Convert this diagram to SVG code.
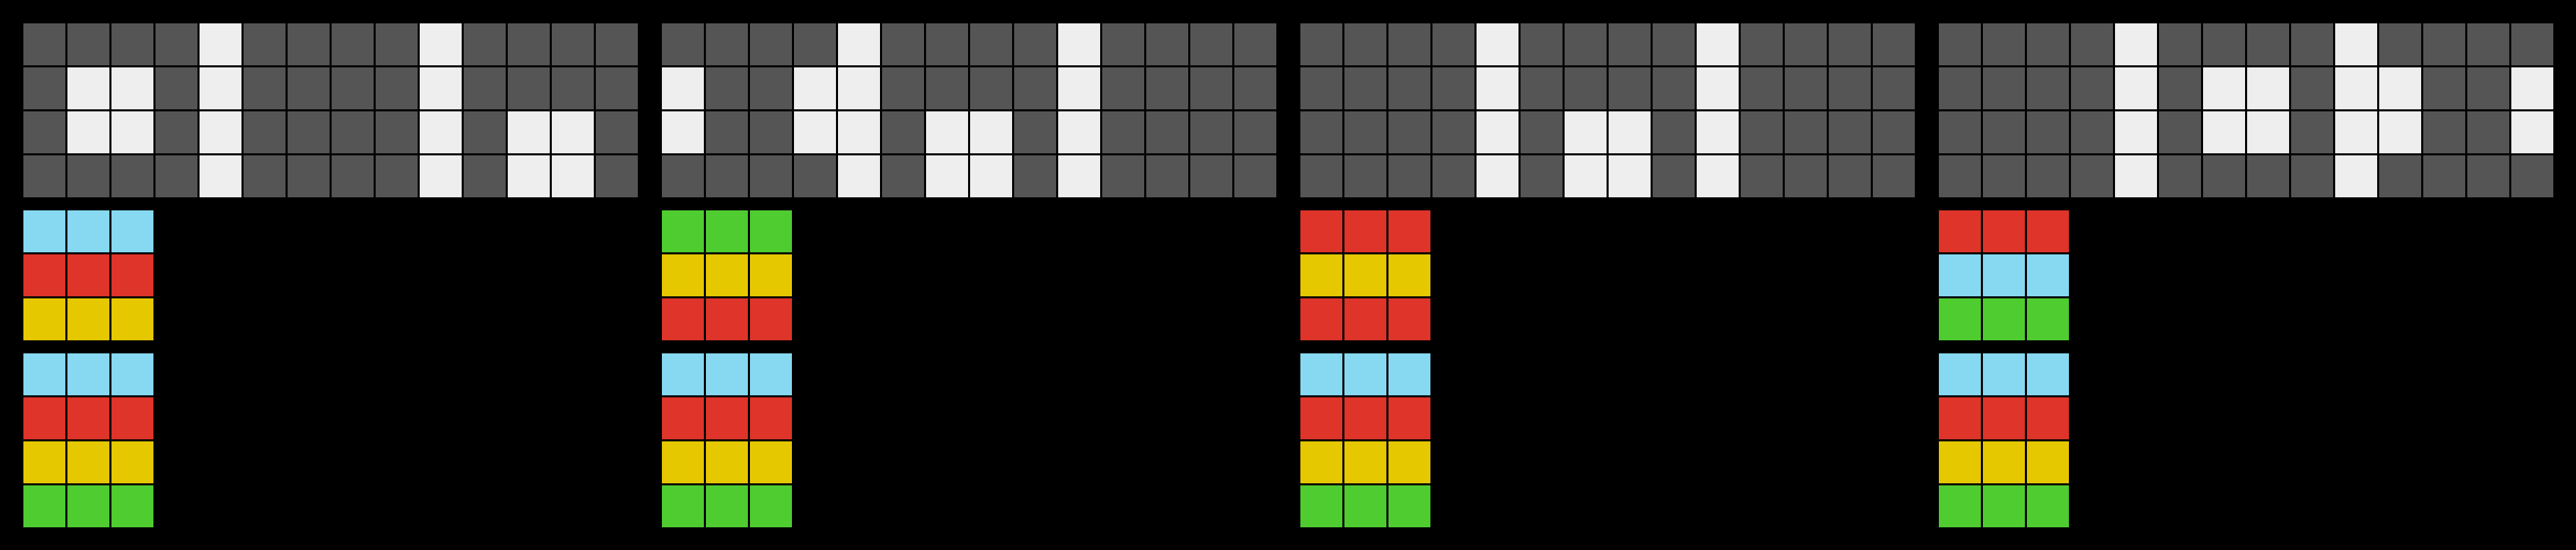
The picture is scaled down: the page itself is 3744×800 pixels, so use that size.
<svg xmlns="http://www.w3.org/2000/svg" xmlns:xlink="http://www.w3.org/1999/xlink" width="3744" height="800" viewBox="0 0 3744 800">
<style>
.w{fill:#EEEEEE}
.gr{fill:#555555}
.cy{fill:#87D8F1}
.rd{fill:#DE3429}
.ye{fill:#E6C800}
.gn{fill:#4FCC30}
</style>
<defs>
<g id="grow" class="gr">
<rect x="34" y="0" width="61" height="61"/><rect x="98" y="0" width="61" height="61"/><rect x="162" y="0" width="61" height="61"/><rect x="226" y="0" width="61" height="61"/><rect x="290" y="0" width="61" height="61"/><rect x="354" y="0" width="61" height="61"/><rect x="418" y="0" width="61" height="61"/><rect x="482" y="0" width="61" height="61"/><rect x="546" y="0" width="61" height="61"/><rect x="610" y="0" width="61" height="61"/><rect x="674" y="0" width="61" height="61"/><rect x="738" y="0" width="61" height="61"/><rect x="802" y="0" width="61" height="61"/><rect x="866" y="0" width="61" height="61"/>
</g>
<g id="base">
<use xlink:href="#grow" href="#grow" y="34"/>
<use xlink:href="#grow" href="#grow" y="98"/>
<use xlink:href="#grow" href="#grow" y="162"/>
<use xlink:href="#grow" href="#grow" y="226"/>
</g>
<g id="r3">
<rect x="34" y="0" width="61" height="61"/><rect x="98" y="0" width="61" height="61"/><rect x="162" y="0" width="61" height="61"/>
</g>
</defs>
<rect x="0" y="0" width="3744" height="800" fill="#000000"/>

<g id="panel1">
<use xlink:href="#base" href="#base"/>
<g class="w">
<rect x="290" y="34" width="61" height="61"/><rect x="610" y="34" width="61" height="61"/>
<rect x="98" y="98" width="61" height="61"/><rect x="162" y="98" width="61" height="61"/><rect x="290" y="98" width="61" height="61"/><rect x="610" y="98" width="61" height="61"/>
<rect x="98" y="162" width="61" height="61"/><rect x="162" y="162" width="61" height="61"/><rect x="290" y="162" width="61" height="61"/><rect x="610" y="162" width="61" height="61"/><rect x="738" y="162" width="61" height="61"/><rect x="802" y="162" width="61" height="61"/>
<rect x="290" y="226" width="61" height="61"/><rect x="610" y="226" width="61" height="61"/><rect x="738" y="226" width="61" height="61"/><rect x="802" y="226" width="61" height="61"/>
</g>
<use xlink:href="#r3" href="#r3" y="306" class="cy"/>
<use xlink:href="#r3" href="#r3" y="370" class="rd"/>
<use xlink:href="#r3" href="#r3" y="434" class="ye"/>
<use xlink:href="#r3" href="#r3" y="514" class="cy"/>
<use xlink:href="#r3" href="#r3" y="578" class="rd"/>
<use xlink:href="#r3" href="#r3" y="642" class="ye"/>
<use xlink:href="#r3" href="#r3" y="706" class="gn"/>
</g>

<g id="panel2" transform="translate(928,0)">
<use xlink:href="#base" href="#base"/>
<g class="w">
<rect x="290" y="34" width="61" height="61"/><rect x="610" y="34" width="61" height="61"/>
<rect x="34" y="98" width="61" height="61"/><rect x="226" y="98" width="61" height="61"/><rect x="290" y="98" width="61" height="61"/><rect x="610" y="98" width="61" height="61"/>
<rect x="34" y="162" width="61" height="61"/><rect x="226" y="162" width="61" height="61"/><rect x="290" y="162" width="61" height="61"/><rect x="418" y="162" width="61" height="61"/><rect x="482" y="162" width="61" height="61"/><rect x="610" y="162" width="61" height="61"/>
<rect x="290" y="226" width="61" height="61"/><rect x="418" y="226" width="61" height="61"/><rect x="482" y="226" width="61" height="61"/><rect x="610" y="226" width="61" height="61"/>
</g>
<use xlink:href="#r3" href="#r3" y="306" class="gn"/>
<use xlink:href="#r3" href="#r3" y="370" class="ye"/>
<use xlink:href="#r3" href="#r3" y="434" class="rd"/>
<use xlink:href="#r3" href="#r3" y="514" class="cy"/>
<use xlink:href="#r3" href="#r3" y="578" class="rd"/>
<use xlink:href="#r3" href="#r3" y="642" class="ye"/>
<use xlink:href="#r3" href="#r3" y="706" class="gn"/>
</g>

<g id="panel3" transform="translate(1856,0)">
<use xlink:href="#base" href="#base"/>
<g class="w">
<rect x="290" y="34" width="61" height="61"/><rect x="610" y="34" width="61" height="61"/>
<rect x="290" y="98" width="61" height="61"/><rect x="610" y="98" width="61" height="61"/>
<rect x="290" y="162" width="61" height="61"/><rect x="418" y="162" width="61" height="61"/><rect x="482" y="162" width="61" height="61"/><rect x="610" y="162" width="61" height="61"/>
<rect x="290" y="226" width="61" height="61"/><rect x="418" y="226" width="61" height="61"/><rect x="482" y="226" width="61" height="61"/><rect x="610" y="226" width="61" height="61"/>
</g>
<use xlink:href="#r3" href="#r3" y="306" class="rd"/>
<use xlink:href="#r3" href="#r3" y="370" class="ye"/>
<use xlink:href="#r3" href="#r3" y="434" class="rd"/>
<use xlink:href="#r3" href="#r3" y="514" class="cy"/>
<use xlink:href="#r3" href="#r3" y="578" class="rd"/>
<use xlink:href="#r3" href="#r3" y="642" class="ye"/>
<use xlink:href="#r3" href="#r3" y="706" class="gn"/>
</g>

<g id="panel4" transform="translate(2784,0)">
<use xlink:href="#base" href="#base"/>
<g class="w">
<rect x="290" y="34" width="61" height="61"/><rect x="610" y="34" width="61" height="61"/>
<rect x="290" y="98" width="61" height="61"/><rect x="418" y="98" width="61" height="61"/><rect x="482" y="98" width="61" height="61"/><rect x="610" y="98" width="61" height="61"/><rect x="674" y="98" width="61" height="61"/><rect x="866" y="98" width="61" height="61"/>
<rect x="290" y="162" width="61" height="61"/><rect x="418" y="162" width="61" height="61"/><rect x="482" y="162" width="61" height="61"/><rect x="610" y="162" width="61" height="61"/><rect x="674" y="162" width="61" height="61"/><rect x="866" y="162" width="61" height="61"/>
<rect x="290" y="226" width="61" height="61"/><rect x="610" y="226" width="61" height="61"/>
</g>
<use xlink:href="#r3" href="#r3" y="306" class="rd"/>
<use xlink:href="#r3" href="#r3" y="370" class="cy"/>
<use xlink:href="#r3" href="#r3" y="434" class="gn"/>
<use xlink:href="#r3" href="#r3" y="514" class="cy"/>
<use xlink:href="#r3" href="#r3" y="578" class="rd"/>
<use xlink:href="#r3" href="#r3" y="642" class="ye"/>
<use xlink:href="#r3" href="#r3" y="706" class="gn"/>
</g>
</svg>
